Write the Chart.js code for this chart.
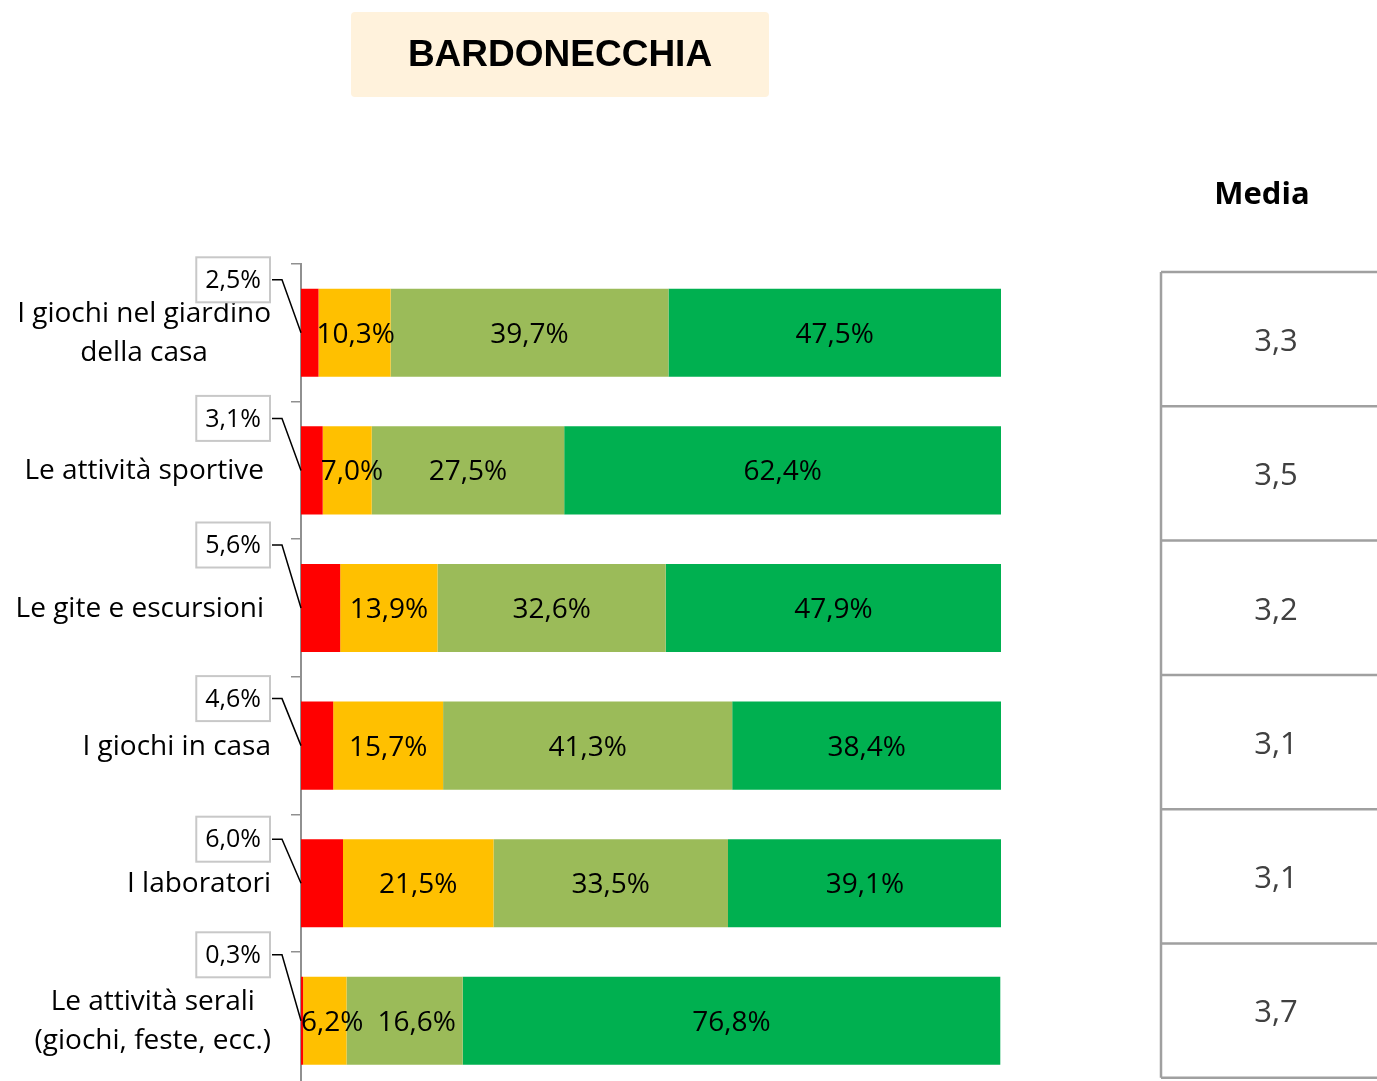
<!DOCTYPE html>
<html lang="it">
<head>
    <meta charset="UTF-8">
    <title>Bardonecchia</title>
    <script src="https://cdn.jsdelivr.net/npm/chart.js"></script>
    <style>
        body { margin: 0; overflow: hidden; background: #fff; }
        #wrap { position: absolute; left: 0; top: 0; width: 1377px; height: 1100px; }
    </style>
</head>
<body>
    <div id="wrap"><canvas id="bardchart"></canvas></div>
    <script>
        // data
        const chartTitle = 'BARDONECCHIA';
        const categories = [
            ['I giochi nel giardino', 'della casa'],
            'Le attività sportive',
            'Le gite e escursioni',
            'I giochi in casa',
            'I laboratori',
            ['Le attività serali', '(giochi, feste, ecc.)']
        ];
        const seriesNames = ['Per niente', 'Poco', 'Abbastanza', 'Molto'];
        const valuesRed = [2.5, 3.1, 5.6, 4.6, 6.0, 0.3];
        const valuesOrange = [10.3, 7.0, 13.9, 15.7, 21.5, 6.2];
        const valuesLightGreen = [39.7, 27.5, 32.6, 41.3, 33.5, 16.6];
        const valuesGreen = [47.5, 62.4, 47.9, 38.4, 39.1, 76.8];
        const mediaHeader = 'Media';
        const mediaValues = [3.3, 3.5, 3.2, 3.1, 3.1, 3.7];

        const barColors = ['#FF0000', '#FFC000', '#9BBB59', '#00B050'];
        const font = '"Open Sans", "Noto Sans", sans-serif';
        // vertical offset of the small callout boxes above each bar
        const calloutDy = [-53, -52, -63, -47, -44, -66];
        // right edge of each category label block
        const labelRight = [271, 264, 264, 271, 271, 271];

        function fmt(v, digits) {
            return v.toFixed(digits).replace('.', ',');
        }

        // draws title, category labels, value labels, callouts and the Media table
        const decorPlugin = {
            id: 'decor',
            afterDatasetsDraw(chart) {
                const ctx = chart.ctx;
                const yScale = chart.scales.y;
                ctx.save();

                // title box
                ctx.fillStyle = '#FFF2DC';
                ctx.beginPath();
                ctx.roundRect(351, 12, 418, 85, 4);
                ctx.fill();
                ctx.fillStyle = '#000';
                ctx.font = 'bold 37px "Liberation Sans", Arial, sans-serif';
                ctx.textAlign = 'center';
                ctx.textBaseline = 'middle';
                ctx.fillText(chartTitle, 560, 56);

                // category labels (right block, lines centred within it)
                ctx.font = '28px ' + font;
                ctx.fillStyle = '#000';
                categories.forEach((cat, i) => {
                    const lines = Array.isArray(cat) ? cat : [cat];
                    const w = Math.max(...lines.map(l => ctx.measureText(l).width));
                    const cx = labelRight[i] - w / 2;
                    const cy = yScale.getPixelForValue(i) + 1;
                    const lh = 39;
                    lines.forEach((l, k) => {
                        ctx.fillText(l, cx, cy + (k - (lines.length - 1) / 2) * lh);
                    });
                });

                // labels inside the segments, nudged right so they don't collide
                ctx.font = '28px ' + font;
                const prevRight = categories.map(() => -Infinity);
                for (let d = 1; d < chart.data.datasets.length; d++) {
                    const meta = chart.getDatasetMeta(d);
                    meta.data.forEach((bar, i) => {
                        const txt = fmt(chart.data.datasets[d].data[i], 1) + '%';
                        const tw = ctx.measureText(txt).width;
                        let x = Math.max((bar.x + bar.base) / 2, bar.base + tw / 2 - 2);
                        x = Math.max(x, prevRight[i] + 14 + tw / 2);
                        prevRight[i] = x + tw / 2;
                        ctx.fillText(txt, x, bar.y + 2);
                    });
                }

                // callouts for the first (red) segment
                const meta0 = chart.getDatasetMeta(0);
                ctx.font = '25px ' + font;
                meta0.data.forEach((bar, i) => {
                    const txt = fmt(chart.data.datasets[0].data[i], 1) + '%';
                    const tw = ctx.measureText(txt).width;
                    const bw = tw + 18, bh = 45;
                    const right = 270;
                    const cy = bar.y + calloutDy[i];
                    ctx.fillStyle = '#fff';
                    ctx.fillRect(right - bw, cy - bh / 2, bw, bh);
                    ctx.strokeStyle = '#c8c8c8';
                    ctx.lineWidth = 2;
                    ctx.strokeRect(right - bw, cy - bh / 2, bw, bh);
                    ctx.fillStyle = '#000';
                    ctx.fillText(txt, right - bw / 2, cy + 1);
                    ctx.strokeStyle = '#000';
                    ctx.lineWidth = 1.5;
                    ctx.beginPath();
                    ctx.moveTo(right + 2, cy);
                    ctx.lineTo(right + 12, cy);
                    ctx.lineTo(bar.base, bar.y);
                    ctx.stroke();
                });

                // Media table
                ctx.font = 'bold 31px ' + font;
                ctx.fillStyle = '#000';
                ctx.fillText(mediaHeader, 1262, 195);
                const top = 272, rowH = 134.3, left = 1161;
                ctx.strokeStyle = '#a0a0a0';
                ctx.lineWidth = 2.5;
                ctx.beginPath();
                ctx.moveTo(left, top);
                ctx.lineTo(left, top + rowH * mediaValues.length);
                for (let r = 0; r <= mediaValues.length; r++) {
                    ctx.moveTo(left, top + r * rowH);
                    ctx.lineTo(1380, top + r * rowH);
                }
                ctx.stroke();
                ctx.font = '31px ' + font;
                ctx.fillStyle = '#404040';
                mediaValues.forEach((m, r) => {
                    ctx.fillText(fmt(m, 1), 1276, top + rowH * (r + 0.5) + 3);
                });

                ctx.restore();
            }
        };

        const seriesValues = [valuesRed, valuesOrange, valuesLightGreen, valuesGreen];

        new Chart(document.getElementById('bardchart'), {
            type: 'bar',
            data: {
                labels: categories,
                datasets: seriesValues.map((vals, k) => ({
                    label: seriesNames[k],
                    data: vals,
                    backgroundColor: barColors[k],
                    borderWidth: 0,
                    barPercentage: 0.64,
                    categoryPercentage: 1
                }))
            },
            options: {
                indexAxis: 'y',
                responsive: true,
                maintainAspectRatio: false,
                animation: false,
                layout: { padding: { top: 264, right: 376, bottom: 10.4, left: 0 } },
                plugins: {
                    legend: { display: false },
                    tooltip: { enabled: false },
                    title: { display: false }
                },
                scales: {
                    x: {
                        stacked: true,
                        min: 0,
                        max: 100,
                        display: false
                    },
                    y: {
                        stacked: true,
                        offset: true,
                        ticks: { display: false },
                        grid: {
                            offset: true,
                            drawOnChartArea: false,
                            drawTicks: true,
                            tickLength: 10,
                            color: '#909090',
                            lineWidth: 1.5
                        },
                        border: { display: true, color: '#909090', width: 2 },
                        afterFit(scale) { scale.width = 301; }
                    }
                }
            },
            plugins: [decorPlugin]
        });
    </script>
</body>
</html>
